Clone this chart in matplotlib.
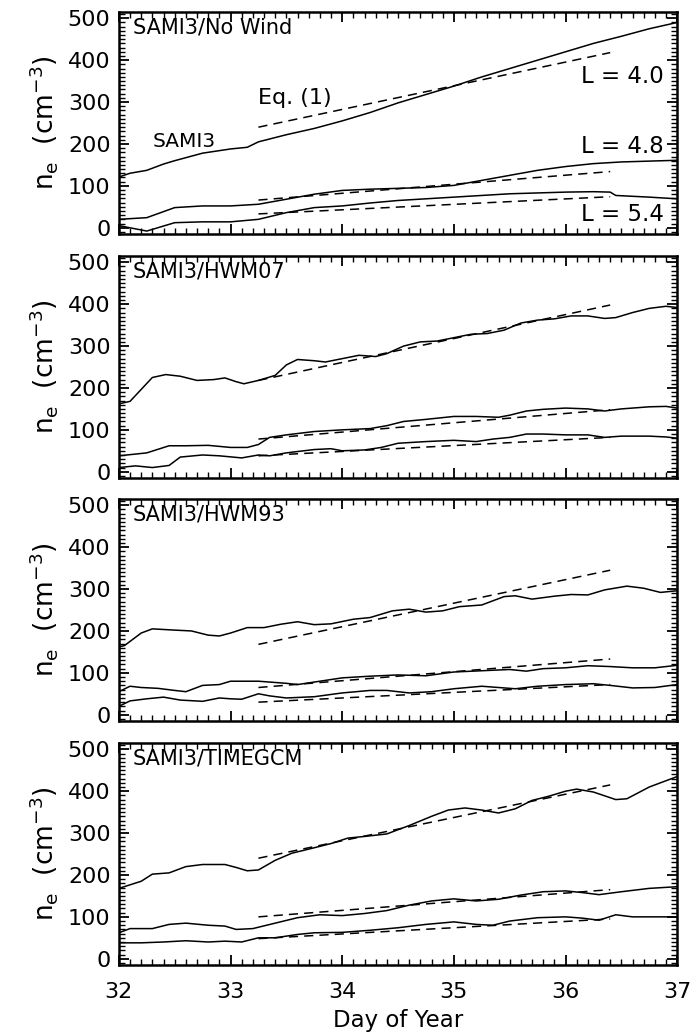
import numpy as np
import matplotlib.pyplot as plt
from matplotlib.ticker import MultipleLocator

plt.rcParams['font.family'] = ['DejaVu Sans']

panel_titles = ["SAMI3/No Wind", "SAMI3/HWM07", "SAMI3/HWM93", "SAMI3/TIMEGCM"]

# SAMI3 curves, (day, ne) for L = 4.0, 4.8, 5.4 in each panel
nowind_40_x = [32.0, 32.1, 32.25, 32.4, 32.5, 32.75, 33.0, 33.15, 33.25, 33.5, 33.75, 34.0, 34.25, 34.5,
               34.75, 35.0, 35.25, 35.5, 35.75, 36.0, 36.25, 36.5, 36.75, 37.0]
nowind_40_y = [121, 130, 137, 152, 160, 178, 188, 192, 205, 222, 237, 255, 275, 298,
               318, 338, 360, 380, 400, 420, 440, 457, 475, 490]
nowind_48_x = [32.0, 32.25, 32.5, 32.75, 33.0, 33.25, 33.5, 33.75, 34.0, 34.25, 34.5, 34.75, 35.0,
               35.25, 35.5, 35.75, 36.0, 36.25, 36.5, 36.75, 37.0]
nowind_48_y = [20, 24, 48, 52, 52, 56, 68, 80, 89, 92, 94, 96, 101,
               113, 125, 137, 146, 153, 157, 159, 161]
nowind_54_x = [32.0, 32.25, 32.5, 32.75, 33.0, 33.25, 33.5, 33.75, 34.0, 34.25, 34.5, 34.75, 35.0,
               35.25, 35.5, 35.75, 36.0, 36.25, 36.4, 36.45, 36.75, 37.0]
nowind_54_y = [5, -8, 12, 14, 14, 20, 36, 48, 52, 59, 65, 69, 73,
               77, 81, 83, 85, 86, 85, 77, 73, 69]

hwm07_40_x = [32.0, 32.1, 32.3, 32.42, 32.55, 32.7, 32.85, 32.95, 33.05, 33.12, 33.25, 33.4, 33.5, 33.6,
              33.75, 33.85, 34.0, 34.15, 34.3, 34.4, 34.55, 34.7, 34.85, 35.0, 35.15, 35.3, 35.45,
              35.6, 35.75, 35.9, 36.05, 36.2, 36.35, 36.45, 36.6, 36.75, 36.9, 37.0]
hwm07_40_y = [162, 168, 225, 232, 228, 218, 220, 224, 215, 210, 218, 230, 255, 268,
              265, 262, 270, 278, 275, 282, 300, 310, 312, 320, 328, 330, 338,
              355, 362, 365, 372, 372, 366, 368, 380, 390, 395, 392]
hwm07_48_x = [32.0, 32.25, 32.45, 32.6, 32.8, 33.0, 33.15, 33.25, 33.35, 33.5, 33.75, 34.0, 34.25, 34.4,
              34.55, 34.75, 35.0, 35.2, 35.4, 35.5, 35.65, 35.8, 36.0, 36.2, 36.35, 36.5, 36.75, 36.9, 37.0]
hwm07_48_y = [38, 45, 62, 62, 63, 58, 58, 65, 82, 88, 96, 100, 103, 110,
              120, 125, 132, 132, 130, 135, 145, 149, 152, 150, 145, 150, 155, 156, 152]
hwm07_54_x = [32.0, 32.15, 32.3, 32.45, 32.55, 32.75, 32.9, 33.1, 33.25, 33.35, 33.5, 33.75, 33.9, 34.0,
              34.2, 34.35, 34.5, 34.75, 35.0, 35.2, 35.35, 35.5, 35.65, 35.8, 36.0, 36.2, 36.35, 36.5,
              36.75, 36.9, 37.0]
hwm07_54_y = [10, 14, 10, 15, 35, 40, 38, 33, 40, 38, 45, 53, 55, 50,
              52, 58, 68, 72, 75, 72, 78, 82, 90, 90, 88, 88, 82, 85,
              85, 83, 80]

hwm93_40_x = [32.0, 32.05, 32.2, 32.3, 32.5, 32.65, 32.8, 32.9, 33.0, 33.15, 33.3, 33.45, 33.6, 33.75,
              33.9, 34.1, 34.25, 34.45, 34.6, 34.75, 34.9, 35.05, 35.25, 35.45, 35.55, 35.7, 35.9,
              36.05, 36.2, 36.35, 36.55, 36.7, 36.85, 37.0]
hwm93_40_y = [162, 165, 195, 205, 202, 200, 190, 188, 195, 208, 208, 216, 222, 215,
              217, 228, 232, 248, 252, 245, 248, 258, 262, 282, 284, 276, 283,
              287, 286, 298, 307, 302, 292, 296]
hwm93_48_x = [32.0, 32.1, 32.2, 32.35, 32.5, 32.6, 32.75, 32.9, 33.0, 33.25, 33.5, 33.6, 33.75, 34.0,
              34.25, 34.5, 34.75, 35.0, 35.25, 35.5, 35.65, 35.8, 36.0, 36.2, 36.4, 36.6, 36.8, 37.0]
hwm93_48_y = [55, 68, 65, 63, 58, 55, 70, 72, 80, 80, 75, 72, 78, 88,
              92, 95, 93, 102, 105, 108, 104, 110, 112, 117, 115, 112, 112, 118]
hwm93_54_x = [32.0, 32.1, 32.25, 32.4, 32.55, 32.75, 32.9, 33.0, 33.1, 33.25, 33.35, 33.5, 33.75, 34.0,
              34.25, 34.4, 34.6, 34.8, 35.0, 35.25, 35.4, 35.55, 35.75, 36.0, 36.25, 36.4, 36.6, 36.8, 37.0]
hwm93_54_y = [20, 33, 38, 42, 35, 32, 40, 38, 37, 50, 45, 40, 43, 52,
              58, 58, 52, 55, 62, 68, 65, 62, 68, 72, 74, 70, 64, 65, 72]

tgcm_40_x = [32.0, 32.2, 32.3, 32.45, 32.6, 32.75, 32.95, 33.05, 33.15, 33.25, 33.4, 33.55, 33.75, 33.9,
             34.05, 34.2, 34.4, 34.6, 34.8, 34.95, 35.1, 35.25, 35.4, 35.55, 35.7, 35.85, 36.0, 36.1,
             36.25, 36.45, 36.55, 36.75, 37.0]
tgcm_40_y = [168, 185, 202, 205, 220, 225, 225, 218, 210, 212, 235, 252, 265, 275,
             288, 292, 298, 318, 340, 355, 360, 355, 348, 358, 378, 388, 400, 405,
             398, 380, 382, 410, 435]
tgcm_48_x = [32.0, 32.1, 32.3, 32.45, 32.6, 32.8, 32.95, 33.05, 33.2, 33.4, 33.6, 33.8, 34.0, 34.2,
             34.4, 34.6, 34.8, 35.0, 35.2, 35.4, 35.6, 35.8, 36.0, 36.15, 36.3, 36.5, 36.75, 37.0]
tgcm_48_y = [62, 72, 72, 82, 85, 80, 78, 70, 72, 85, 98, 105, 103, 108,
             115, 128, 138, 143, 138, 142, 152, 160, 162, 158, 153, 160, 168, 172]
tgcm_54_x = [32.0, 32.2, 32.4, 32.6, 32.8, 32.95, 33.1, 33.25, 33.4, 33.6, 33.75, 34.0, 34.25, 34.5,
             34.75, 35.0, 35.2, 35.35, 35.5, 35.75, 36.0, 36.15, 36.3, 36.45, 36.6, 36.8, 37.0]
tgcm_54_y = [38, 38, 40, 43, 40, 42, 40, 50, 50, 58, 62, 63, 68, 74,
             82, 88, 82, 80, 90, 98, 100, 97, 92, 105, 100, 100, 100]

# Eq. (1) fits: straight lines between day 33.25 and 36.4
fit_days = [33.25, 36.4]
fit_nowind = [[240, 418], [66, 134], [33, 74]]
fit_hwm07 = [[218, 398], [78, 148], [38, 82]]
fit_hwm93 = [[168, 345], [65, 133], [30, 72]]
fit_tgcm = [[240, 415], [100, 165], [48, 95]]

curves = [
    [(nowind_40_x, nowind_40_y), (nowind_48_x, nowind_48_y), (nowind_54_x, nowind_54_y)],
    [(hwm07_40_x, hwm07_40_y), (hwm07_48_x, hwm07_48_y), (hwm07_54_x, hwm07_54_y)],
    [(hwm93_40_x, hwm93_40_y), (hwm93_48_x, hwm93_48_y), (hwm93_54_x, hwm93_54_y)],
    [(tgcm_40_x, tgcm_40_y), (tgcm_48_x, tgcm_48_y), (tgcm_54_x, tgcm_54_y)],
]
fits = [fit_nowind, fit_hwm07, fit_hwm93, fit_tgcm]

fig = plt.figure(figsize=(6.91, 10.34), dpi=100)
left, width, height = 0.172, 0.808, 0.2147
bottoms = [0.7737, 0.5377, 0.3027, 0.0667]

for i in range(4):
    ax = fig.add_axes([left, bottoms[i], width, height])
    for cx, cy in curves[i]:
        ax.plot(cx, cy, color='black', lw=1.1)
    for fy in fits[i]:
        ax.plot(fit_days, fy, color='black', lw=1.1, dashes=(6, 4))
    ax.set_xlim(32, 37)
    ax.set_ylim(-15, 515)
    ax.xaxis.set_major_locator(MultipleLocator(1))
    ax.xaxis.set_minor_locator(MultipleLocator(0.1))
    ax.yaxis.set_major_locator(MultipleLocator(100))
    ax.yaxis.set_minor_locator(MultipleLocator(10))
    ax.tick_params(which='both', direction='in', top=True, right=True, labelsize=16)
    ax.tick_params(which='major', length=7, width=1.3)
    ax.tick_params(which='minor', length=4, width=1.0)
    ax.tick_params(axis='y', pad=6)
    ax.tick_params(axis='x', pad=12)
    for s in ax.spines.values():
        s.set_linewidth(1.8)
    ax.set_ylabel(r'n$_{\rm e}$  (cm$^{-3}$)', fontsize=19)
    ax.yaxis.set_label_coords(-0.105, 0.5)
    ax.text(0.025, 0.93, panel_titles[i], transform=ax.transAxes, fontsize=15,
            ha='left', va='center')
    if i < 3:
        ax.set_xticklabels([])
    else:
        ax.set_xlabel('Day of Year', fontsize=16.5, labelpad=5)
    if i == 0:
        ax.text(33.25, 310, 'Eq. (1)', fontsize=16, ha='left', va='center')
        ax.text(32.3, 205, 'SAMI3', fontsize=14.5, ha='left', va='center')
        ax.text(36.88, 360, 'L = 4.0', fontsize=16.5, ha='right', va='center')
        ax.text(36.88, 195, 'L = 4.8', fontsize=16.5, ha='right', va='center')
        ax.text(36.88, 32, 'L = 5.4', fontsize=16.5, ha='right', va='center')

fig.savefig('out.png', dpi=100)
